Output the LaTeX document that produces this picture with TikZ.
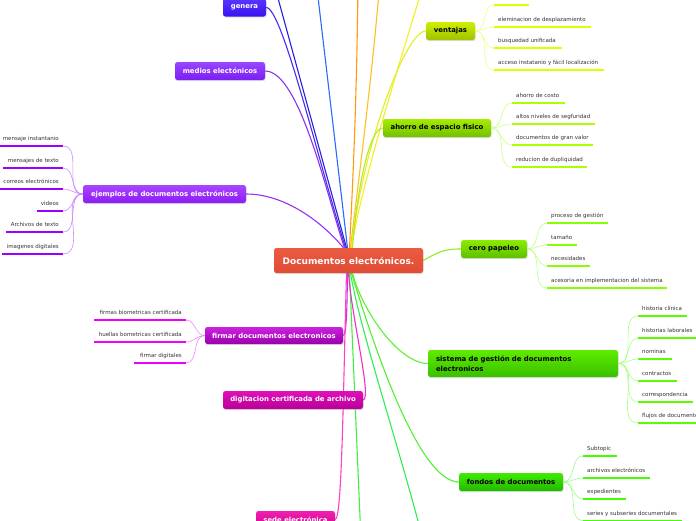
\documentclass[tikz,border=0pt]{standalone}
\usepackage{fontspec}
\setmainfont{DejaVu Sans}
\usetikzlibrary{shadows}
\usetikzlibrary{backgrounds}
\newcommand\subfont{\fontsize{5.5}{6.5}\selectfont}
\newcommand\topfont{\fontsize{6.9}{10}\selectfont\bfseries}
\newcommand\cenfont{\fontsize{9}{11}\selectfont\bfseries}
\definecolor{txt}{HTML}{333333}
\definecolor{centt}{HTML}{EA5B41}
\definecolor{centb}{HTML}{E04C35}
\definecolor{gent}{HTML}{5A36FF}
\definecolor{genb}{HTML}{3A12F0}
\definecolor{medt}{HTML}{9A45FF}
\definecolor{medb}{HTML}{7A1FF2}
\definecolor{ejet}{HTML}{A846FF}
\definecolor{ejeb}{HTML}{8C1CF5}
\definecolor{vent}{HTML}{D0F000}
\definecolor{venb}{HTML}{9EC200}
\definecolor{ahot}{HTML}{A6EC00}
\definecolor{ahob}{HTML}{72C000}
\definecolor{cert}{HTML}{8EEC00}
\definecolor{cerb}{HTML}{5CC000}
\definecolor{sist}{HTML}{5EEC00}
\definecolor{sisb}{HTML}{38C000}
\definecolor{fndt}{HTML}{40EC00}
\definecolor{fndb}{HTML}{22B800}
\definecolor{firt}{HTML}{CC22E0}
\definecolor{firb}{HTML}{9A00AA}
\definecolor{digt}{HTML}{E010B8}
\definecolor{digb}{HTML}{B80098}
\definecolor{sedt}{HTML}{F020B0}
\definecolor{sedb}{HTML}{D00090}
\definecolor{genl}{HTML}{4A2AF0}
\definecolor{medl}{HTML}{8A30F0}
\definecolor{ejel}{HTML}{9A30F5}
\definecolor{blul}{HTML}{2A1EDD}
\definecolor{lbll}{HTML}{2A6AFF}
\definecolor{oral}{HTML}{FF9A10}
\definecolor{oyel}{HTML}{FFC020}
\definecolor{yell}{HTML}{F2F020}
\definecolor{venl}{HTML}{E0F020}
\definecolor{ahol}{HTML}{B0EE20}
\definecolor{cerl}{HTML}{90EE20}
\definecolor{sisl}{HTML}{60F030}
\definecolor{fndl}{HTML}{50F030}
\definecolor{grnl}{HTML}{40F040}
\definecolor{grml}{HTML}{30EE50}
\definecolor{firl}{HTML}{D030E8}
\definecolor{digl}{HTML}{F030C8}
\definecolor{sedl}{HTML}{FF40C0}
\definecolor{vul}{HTML}{DDFF00}
\definecolor{aul}{HTML}{AAFF00}
\definecolor{cul}{HTML}{88FF00}
\definecolor{sul}{HTML}{55FF00}
\definecolor{dul}{HTML}{44FF00}
\definecolor{eul}{HTML}{9900FF}
\definecolor{ful}{HTML}{EE00FF}
\definecolor{vcl}{HTML}{EEFF88}
\definecolor{acl}{HTML}{CCFF88}
\definecolor{ccl}{HTML}{BBFF88}
\definecolor{scl}{HTML}{AAFF88}
\definecolor{dcl}{HTML}{99FF88}
\definecolor{ecl}{HTML}{CC88FF}
\definecolor{fcl}{HTML}{EE88FF}
\tikzset{topic/.style = {rounded corners=2.5pt, minimum height=18pt, inner sep=0pt,
                         font=\topfont, text=white,
                         drop shadow={opacity=0.25, shadow xshift=0.5pt, shadow yshift=-1.2pt}}}
\tikzset{subr/.style = {anchor=south west, inner xsep=4pt, inner ysep=4pt,
                        text height=4pt, text depth=1.1pt, font=\subfont, text=txt}}
\tikzset{subl/.style = {subr, anchor=south east}}
\tikzset{main/.style = {line width=1.1pt}}
\tikzset{twig/.style = {line width=0.6pt}}
\tikzset{ul/.style = {line width=1.9pt}}

\begin{document}
\begin{tikzpicture}[x=1pt, y=-1pt]
      \useasboundingbox (0,0) rectangle (696,520);
      \begin{scope}[on background layer]
        \fill[white] (0,0) rectangle (696,520);
      \end{scope}
      \node[topic, minimum width=149pt, minimum height=25pt, font=\cenfont,
            top color=centt, bottom color=centb] (cent) at (348.5,260.5) {Documentos electrónicos.};
      \node[topic, minimum width=43pt, top color=gent, bottom color=genb] (gen) at (244.5,7.5) {genera};
      \node[topic, minimum width=90pt, top color=medt, bottom color=medb] (med) at (220,71) {medios electónicos};
      \node[topic, minimum width=163pt, top color=ejet, bottom color=ejeb] (ejem) at (164.5,194) {ejemplos de documentos electrónicos};
      \node[topic, minimum width=49pt, text=black, top color=vent, bottom color=venb] (vent) at (450.5,31) {ventajas};
      \node[topic, minimum width=108pt, text=black, top color=ahot, bottom color=ahob] (ahor) at (437,128) {ahorro de espacio fisico};
      \node[topic, minimum width=66pt, text=black, top color=cert, bottom color=cerb] (cero) at (494,249) {cero papeleo};
      \node[topic, minimum width=190pt, minimum height=27pt, text width=174pt, align=left, text=black,
            top color=sist, bottom color=sisb] (sist) at (523,363.5) {sistema de gestión de documentos\\electronicos};
      \node[topic, minimum width=104pt, text=black, top color=fndt, bottom color=fndb] (fond) at (511,482) {fondos de documentos};
      \node[topic, minimum width=138pt, minimum height=17pt, top color=firt, bottom color=firb] (firm) at (274,335.5) {firmar documentos electronicos};
      \node[topic, minimum width=140pt, top color=digt, bottom color=digb] (digi) at (293,400) {digitacion certificada de archivo};
      \node[topic, minimum width=79pt, minimum height=17pt, top color=sedt, bottom color=sedb] (sede) at (295.5,519.5) {sede electrónica};
      \coordinate (t1) at (273,-20);
      \coordinate (t2) at (316,-20);
      \coordinate (t3) at (358,-20);
      \coordinate (t4) at (380,-20);
      \coordinate (t5) at (425,-20);
      \coordinate (b1) at (361,540);
      \coordinate (b2) at (423,540);
      \begin{scope}[on background layer]
      \draw[main, blul] (t1) -- ([xshift=-2pt]cent.north);
      \draw[main, lbll] (t2) -- ([xshift=-1pt]cent.north);
      \draw[main, oral] (t3) .. controls (357,100) and (352,200) .. ([xshift=1pt]cent.north);
      \draw[main, oyel] (t4) .. controls (372,80) and (356,200) .. ([xshift=2pt]cent.north);
      \draw[main, yell] (t5) .. controls (400,60) and (360,190) .. ([xshift=3pt]cent.north);
      \draw[main, genl] (gen.east) .. controls (282,7) and (318,160) .. ([xshift=-3pt]cent.north);
      \draw[main, medl] (med.east) .. controls (300,71) and (328,200) .. ([xshift=-4pt]cent.north);
      \draw[main, ejel] (ejem.east) .. controls (285,194) and (322,222) .. ([xshift=-5pt]cent.north);
      \draw[main, venl] (vent.west) .. controls (405,31) and (362,150) .. ([xshift=3pt]cent.north);
      \draw[main, ahol] (ahor.west) .. controls (368,128) and (356,200) .. ([xshift=4pt]cent.north);
      \draw[main, cerl] (cero.west) .. controls (445,249) and (440,251) .. (cent.east);
      \draw[main, sisl] (sist.west) .. controls (398,363) and (362,310) .. ([xshift=4pt]cent.south);
      \draw[main, fndl] (fond.west) .. controls (418,482) and (372,340) .. ([xshift=3pt]cent.south);
      \draw[main, grnl] (b1) -- ([xshift=1pt]cent.south);
      \draw[main, grml] (b2) .. controls (400,450) and (360,330) .. ([xshift=2pt]cent.south);
      \draw[main, firl] (firm.east) .. controls (347,335) and (347,300) .. ([xshift=-1pt]cent.south);
      \draw[main, digl] (digi.east) .. controls (372,398) and (352,320) .. (cent.south);
      \draw[main, sedl] (sede.east) .. controls (342,519) and (343,400) .. ([xshift=-2pt]cent.south);
      \end{scope}
      \node[subr] (v0) at (494,5) {};
      \node[subr] (v1) at (494,27) {eleminacion de desplazamiento};
      \node[subr] (v2) at (494,48) {busquedad unificada};
      \node[subr] (v3) at (494,70) {acceso instatanio y fácil localización};
      \draw[twig, vcl] (vent.east) to[out=0,in=180] (v0.south west) edge[ul, vul] ++(35,0);
      \draw[twig, vcl] (vent.east) to[out=0,in=180] (v1.south west) edge[ul, vul] ++(97,0);
      \draw[twig, vcl] (vent.east) to[out=0,in=180] (v2.south west) edge[ul, vul] ++(68,0);
      \draw[twig, vcl] (vent.east) to[out=0,in=180] (v3.south west) edge[ul, vul] ++(110,0);
      \node[subr] (a1) at (512,103) {ahorro de costo};
      \node[subr] (a2) at (512,124) {altos niveles de segfuridad};
      \node[subr] (a3) at (512,145) {documentos de gran valor};
      \node[subr] (a4) at (512,167) {reducion de dupliquidad};
      \draw[twig, acl] (ahor.east) to[out=0,in=180] (a1.south west) edge[ul, aul] ++(53,0);
      \draw[twig, acl] (ahor.east) to[out=0,in=180] (a2.south west) edge[ul, aul] ++(83,0);
      \draw[twig, acl] (ahor.east) to[out=0,in=180] (a3.south west) edge[ul, aul] ++(81,0);
      \draw[twig, acl] (ahor.east) to[out=0,in=180] (a4.south west) edge[ul, aul] ++(75,0);
      \node[subr] (c1) at (547,223) {proceso de gestión};
      \node[subr] (c2) at (547,245) {tamaño};
      \node[subr] (c3) at (547,266) {necesidades};
      \node[subr] (c4) at (547,288) {acesoria en implementacion del sistema};
      \draw[twig, ccl] (cero.east) to[out=0,in=180] (c1.south west) edge[ul, cul] ++(61,0);
      \draw[twig, ccl] (cero.east) to[out=0,in=180] (c2.south west) edge[ul, cul] ++(30,0);
      \draw[twig, ccl] (cero.east) to[out=0,in=180] (c3.south west) edge[ul, cul] ++(43,0);
      \draw[twig, ccl] (cero.east) to[out=0,in=180] (c4.south west) edge[ul, cul] ++(120,0);
      \node[subr] (s1) at (638,316) {historia clínica};
      \node[subr] (s2) at (638,338) {historias laborales};
      \node[subr] (s3) at (638,359) {nominas};
      \node[subr] (s4) at (638,381) {contractos};
      \node[subr] (s5) at (638,402) {correspondencia};
      \node[subr] (s6) at (638,423) {flujos de documentos};
      \draw[twig, scl] (sist.east) to[out=0,in=180] (s1.south west) edge[ul, sul] ++(49,0);
      \draw[twig, scl] (sist.east) to[out=0,in=180] (s2.south west) edge[ul, sul] ++(62,0);
      \draw[twig, scl] (sist.east) to[out=0,in=180] (s3.south west) edge[ul, sul] ++(34,0);
      \draw[twig, scl] (sist.east) to[out=0,in=180] (s4.south west) edge[ul, sul] ++(39,0);
      \draw[twig, scl] (sist.east) to[out=0,in=180] (s5.south west) edge[ul, sul] ++(55,0);
      \draw[twig, scl] (sist.east) to[out=0,in=180] (s6.south west) edge[ul, sul] ++(62,0);
      \node[subr] (d1) at (583,456) {Subtopic};
      \node[subr] (d2) at (583,478) {archivos electrónicos};
      \node[subr] (d3) at (583,499) {expedientes};
      \node[subr] (d4) at (583,520.5) {series y subseries documentales};
      \draw[twig, dcl] (fond.east) to[out=0,in=180] (d1.south west) edge[ul, dul] ++(34,0);
      \draw[twig, dcl] (fond.east) to[out=0,in=180] (d2.south west) edge[ul, dul] ++(67,0);
      \draw[twig, dcl] (fond.east) to[out=0,in=180] (d3.south west) edge[ul, dul] ++(43,0);
      \draw[twig, dcl] (fond.east) to[out=0,in=180] (d4.south west) edge[ul, dul] ++(99,0);
      \node[subl] (e1) at (63,146) {mensaje instantanio};
      \node[subl] (e2) at (63,168) {mensajes de texto};
      \node[subl] (e3) at (63,189) {correos electrónicos};
      \node[subl] (e4) at (63,211) {videos};
      \node[subl] (e5) at (63,232) {Archivos de texto};
      \node[subl] (e6) at (63,254) {imagenes digitales};
      \draw[twig, ecl] (ejem.west) to[out=180,in=0] (e1.south east) edge[ul, eul] ++(-66,0);
      \draw[twig, ecl] (ejem.west) to[out=180,in=0] (e2.south east) edge[ul, eul] ++(-60,0);
      \draw[twig, ecl] (ejem.west) to[out=180,in=0] (e3.south east) edge[ul, eul] ++(-66,0);
      \draw[twig, ecl] (ejem.west) to[out=180,in=0] (e4.south east) edge[ul, eul] ++(-26,0);
      \draw[twig, ecl] (ejem.west) to[out=180,in=0] (e5.south east) edge[ul, eul] ++(-57,0);
      \draw[twig, ecl] (ejem.west) to[out=180,in=0] (e6.south east) edge[ul, eul] ++(-61,0);
      \node[subl] (f1) at (186,320) {firmas biometricas certificada};
      \node[subl] (f2) at (186,342) {huellas bometricas certificada};
      \node[subl] (f3) at (186,363) {firmar digitales};
      \draw[twig, fcl] (firm.west) to[out=180,in=0] (f1.south east) edge[ul, ful] ++(-92,0);
      \draw[twig, fcl] (firm.west) to[out=180,in=0] (f2.south east) edge[ul, ful] ++(-92,0);
      \draw[twig, fcl] (firm.west) to[out=180,in=0] (f3.south east) edge[ul, ful] ++(-52,0);
    \end{tikzpicture}
\end{document}
